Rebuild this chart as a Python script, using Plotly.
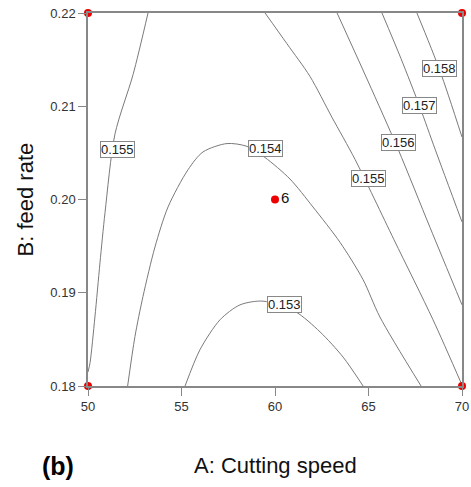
import plotly.graph_objects as go

# axis ticks
speed_ticks = [50, 55, 60, 65, 70]
feed_ticks = [0.18, 0.19, 0.20, 0.21, 0.22]

# contour lines (A: cutting speed, B: feed rate)
c155_left_A = [53.21, 52.41, 51.44, 50.91, 50.64, 50.37, 50.11, 50.0]
c155_left_B = [0.22, 0.2134, 0.2070, 0.1986, 0.1932, 0.1874, 0.1825, 0.1815]

c154_A = [52.12, 52.51, 52.94, 53.58, 54.28, 55.35, 56.15, 57.43, 58.50, 59.47, 60.80, 62.03, 63.48, 64.71, 65.61, 67.81]
c154_B = [0.18, 0.1853, 0.1896, 0.1949, 0.1992, 0.2032, 0.2051, 0.2060, 0.2057, 0.2045, 0.2022, 0.1992, 0.1954, 0.1914, 0.1874, 0.18]

c153_A = [55.19, 55.99, 57.06, 58.13, 59.36, 61.07, 62.41, 63.64, 64.71]
c153_B = [0.18, 0.1839, 0.1871, 0.1887, 0.1891, 0.1880, 0.1858, 0.1831, 0.18]

c155_right_A = [59.47, 60.64, 61.87, 63.05, 64.28, 66.36, 68.45, 70.0]
c155_right_B = [0.22, 0.2167, 0.2132, 0.2088, 0.2043, 0.1957, 0.1871, 0.1801]

c156_A = [63.32, 64.97, 66.58, 68.29, 70.0]
c156_B = [0.22, 0.2127, 0.2054, 0.1970, 0.1887]

c157_A = [65.72, 66.74, 67.75, 68.56, 70.0]
c157_B = [0.22, 0.2151, 0.2099, 0.2054, 0.1976]

c158_A = [67.59, 68.82, 70.0]
c158_B = [0.22, 0.2138, 0.2067]

# contour labels
label_text = ["0.155", "0.154", "0.153", "0.155", "0.156", "0.157", "0.158"]
label_A = [51.60, 59.49, 60.51, 65.00, 66.60, 67.75, 68.77]
label_B = [0.2054, 0.2055, 0.1887, 0.2023, 0.2061, 0.2101, 0.2140]

# design points
design_A = [50, 50, 70, 70, 60]
design_B = [0.18, 0.22, 0.18, 0.22, 0.20]
design_text = ["", "", "", "", "6"]

line_color = "#7a7a7a"
fig = go.Figure()

for xa, yb in [(c155_left_A, c155_left_B), (c154_A, c154_B), (c153_A, c153_B),
               (c155_right_A, c155_right_B), (c156_A, c156_B), (c157_A, c157_B),
               (c158_A, c158_B)]:
    fig.add_trace(go.Scatter(x=xa, y=yb, mode="lines",
                             line=dict(color=line_color, width=1, shape="spline", smoothing=0.8),
                             hoverinfo="skip", showlegend=False))

fig.add_trace(go.Scatter(x=design_A, y=design_B, mode="markers+text",
                         text=design_text, textposition="middle right",
                         textfont=dict(size=15, color="#111", family="Liberation Sans, Arial"),
                         marker=dict(color="#ee0000", size=8),
                         cliponaxis=False, showlegend=False))

for t, a, b in zip(label_text, label_A, label_B):
    fig.add_annotation(x=a, y=b, text=t, showarrow=False,
                       font=dict(size=13, color="#222", family="Liberation Sans, Arial"),
                       bgcolor="white", bordercolor="#888", borderwidth=1, borderpad=0)

axis_common = dict(showline=True, linecolor="#888", linewidth=1.5, mirror=True,
                   ticks="outside", ticklen=8, tickcolor="#888", showgrid=False,
                   zeroline=False, automargin=False,
                   tickfont=dict(size=13, color="#333", family="Liberation Sans, Arial"))

fig.update_xaxes(range=[50, 70], tickvals=speed_ticks, ticktext=[str(v) for v in speed_ticks],
                 **axis_common)
fig.update_yaxes(range=[0.18, 0.22], tickvals=feed_ticks, ticktext=[f"{v:.2f}" for v in feed_ticks],
                 **axis_common)

fig.add_annotation(xref="paper", yref="paper", x=0.5, y=0, yanchor="middle", yshift=-79,
                   text="A: Cutting speed", showarrow=False,
                   font=dict(size=22, color="#111", family="Liberation Sans, Arial"))
fig.add_annotation(xref="paper", yref="paper", x=0, y=0.5, xanchor="center", xshift=-63,
                   text="B: feed rate", textangle=-90, showarrow=False,
                   font=dict(size=22, color="#111", family="Liberation Sans, Arial"))
fig.add_annotation(xref="paper", yref="paper", x=0, y=0, xanchor="center", yanchor="middle",
                   xshift=-30, yshift=-80, text="<b>(b)</b>", showarrow=False,
                   font=dict(size=25, color="#000", family="Liberation Sans, Arial"))

fig.update_layout(width=471, height=487, margin=dict(l=88, r=9, t=13, b=101),
                  plot_bgcolor="white", paper_bgcolor="white")

fig.write_html("out.html")
